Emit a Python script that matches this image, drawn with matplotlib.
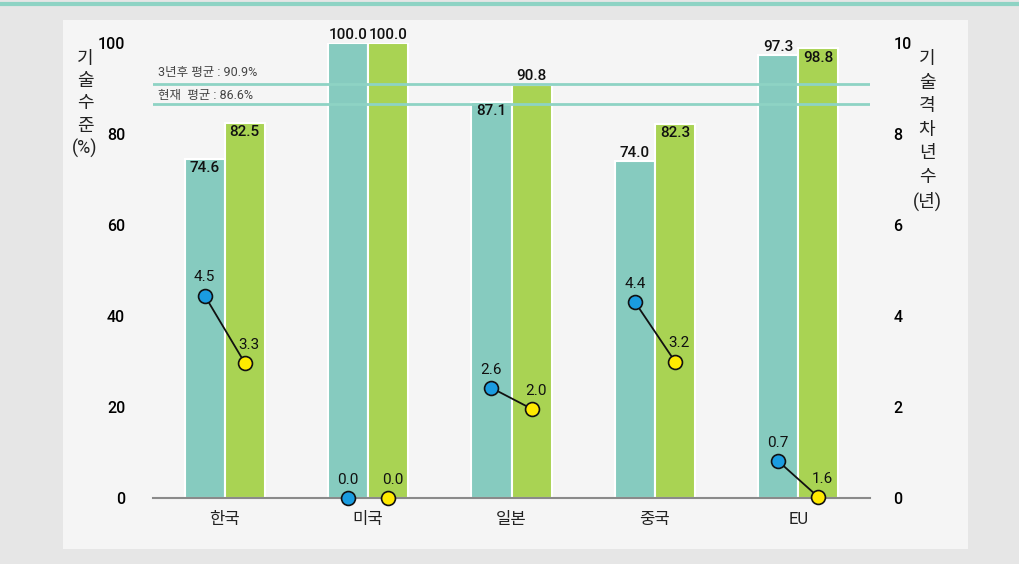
import numpy as np
import matplotlib.pyplot as plt
from matplotlib.patches import Rectangle
from matplotlib.lines import Line2D

plt.rcParams['font.family'] = ['Roboto', 'Noto Sans CJK KR', 'DejaVu Sans']

# data
countries = ['한국', '미국', '일본', '중국', 'EU']
level_now = [74.6, 100.0, 87.1, 74.0, 97.3]
level_3y = [82.5, 100.0, 90.8, 82.3, 98.8]
gap_now = [4.5, 0.0, 2.6, 4.4, 0.7]
gap_3y = [3.3, 0.0, 2.0, 3.2, 1.6]
# where the dots sit on the right axis in the picture (EU 3-year dot is drawn at 0)
gap_now_drawn = [4.45, 0.0, 2.42, 4.31, 0.81]
gap_3y_drawn = [2.97, 0.0, 1.96, 3.0, 0.02]
avg_now = 86.6
avg_3y = 90.9
left_ticks = [0, 20, 40, 60, 80, 100]
right_ticks = [0, 2, 4, 6, 8, 10]

# label placement (inside top of bar or above it)
inside_now = [True, False, True, False, False]
inside_3y = [True, False, False, True, True]

teal = '#86cbbf'
green = '#a9d353'
line_col = '#8ed3c4'
blue = '#1a9ce0'
yellow = '#ffea00'

fig = plt.figure(figsize=(10.19, 5.64), dpi=100)
fig.patch.set_facecolor('#e6e6e6')
fig.patches.append(Rectangle((63 / 1019, 1 - 549 / 564), (968 - 63) / 1019, (549 - 20) / 564,
                             transform=fig.transFigure, facecolor='#f5f5f5', edgecolor='none', zorder=-10))
fig.lines.append(Line2D([0, 1], [1 - 3.5 / 564] * 2, transform=fig.transFigure, color=line_col, lw=3,
                        zorder=-10))

ax = fig.add_axes([153 / 1019, 66 / 564, 717 / 1019, 455 / 564])
ax.set_facecolor('none')
ax2 = ax.twinx()

x = np.arange(len(countries))
w = 0.28
off = 0.14

ax.bar(x - off, level_now, w, color=teal, edgecolor='white', linewidth=1.5, zorder=2)
ax.bar(x + off, level_3y, w, color=green, edgecolor='white', linewidth=1.5, zorder=2)

for xi, v, ins in zip(x - off, level_now, inside_now):
    ax.annotate(f'{v:.1f}', (xi, v), xytext=(0, -2 if ins else 1), textcoords='offset points',
                ha='center', va='top' if ins else 'bottom', fontsize=11, fontweight='medium',
                color='#111111', zorder=5, annotation_clip=False)
for xi, v, ins in zip(x + off, level_3y, inside_3y):
    ax.annotate(f'{v:.1f}', (xi, v), xytext=(0, -2 if ins else 1), textcoords='offset points',
                ha='center', va='top' if ins else 'bottom', fontsize=11, fontweight='medium',
                color='#111111', zorder=5, annotation_clip=False)

ax.axhline(avg_3y, color=line_col, lw=2, zorder=3)
ax.axhline(avg_now, color=line_col, lw=2, zorder=3)
ax.text(0.007, avg_3y + 2.7, f'3년후 평균 : {avg_3y}%', transform=ax.get_yaxis_transform(),
        fontsize=9, color='#444444', va='center', ha='left')
ax.text(0.007, avg_now + 1.9, f'현재  평균 : {avg_now}%', transform=ax.get_yaxis_transform(),
        fontsize=9, color='#444444', va='center', ha='left')

ax.set_xlim(-0.5, 4.5)
ax.set_ylim(0, 100)
ax.set_xticks(x)
ax.set_xticklabels(countries, fontsize=12, color='#222222')
ax.set_yticks(left_ticks)
ax.set_yticklabels([str(t) for t in left_ticks], fontsize=11.5, fontweight='medium')
ax.tick_params(axis='both', length=0)
ax.tick_params(axis='y', pad=20)
ax.tick_params(axis='x', pad=10)
for s in ['top', 'right', 'left']:
    ax.spines[s].set_visible(False)
ax.spines['bottom'].set_color('#8a8a8a')
ax.spines['bottom'].set_linewidth(1.5)

# gap lines (no connector when both dots sit on the baseline)
for xi, a, b in zip(x, gap_now_drawn, gap_3y_drawn):
    if a == 0 and b == 0:
        continue
    ax2.plot([xi - off, xi + off], [a, b], color='#111111', lw=1.3, zorder=4)
ax2.plot(x - off, gap_now_drawn, 'o', ms=10, mfc=blue, mec='#111111', mew=1.2, ls='none', zorder=5,
         clip_on=False)
ax2.plot(x + off, gap_3y_drawn, 'o', ms=10, mfc=yellow, mec='#111111', mew=1.2, ls='none', zorder=5,
         clip_on=False)
for xi, v, d in zip(x - off, gap_now, gap_now_drawn):
    ax2.annotate(f'{v:.1f}', (xi, d), xytext=(0, 8), textcoords='offset points', ha='center', va='bottom',
                 fontsize=11, color='#111111', zorder=6)
for xi, v, d in zip(x + off, gap_3y, gap_3y_drawn):
    ax2.annotate(f'{v:.1f}', (xi, d), xytext=(3, 8), textcoords='offset points', ha='center', va='bottom',
                 fontsize=11, color='#111111', zorder=6)

ax2.set_ylim(0, 10)
ax2.set_yticks(right_ticks)
ax2.set_yticklabels([str(t) for t in right_ticks], fontsize=11.5, fontweight='medium')
ax2.tick_params(axis='y', length=0, pad=17)
for s in ['top', 'right', 'left', 'bottom']:
    ax2.spines[s].set_visible(False)

fig.text(85 / 1019, 1 - 50 / 564, '기\n술\n수\n준\n(%)', ha='center', va='top', fontsize=13,
         color='#222222', linespacing=1.3)
fig.text(927 / 1019, 1 - 50 / 564, '기\n술\n격\n차\n년\n수\n(년)', ha='center', va='top', fontsize=13,
         color='#222222', linespacing=1.4)

fig.savefig('out.png', dpi=100, facecolor=fig.get_facecolor())
